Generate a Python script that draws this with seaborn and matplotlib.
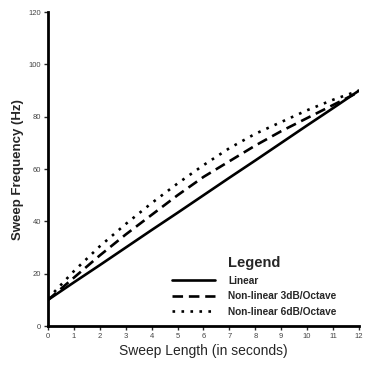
import pandas as pd
import matplotlib
matplotlib.use("Agg")
import matplotlib.pyplot as plt
import seaborn as sns

seconds = [0, 1, 2, 3, 4, 5, 6, 7, 8, 9, 10, 11, 12]
linear = [10, 16.7, 23.3, 30, 36.7, 43.3, 50, 56.7, 63.3, 70, 76.7, 83.3, 90]
nonlinear_3db = [10, 18.5, 27, 35, 42.5, 50, 57, 63, 69, 74.5, 79.5, 84.5, 89.5]
nonlinear_6db = [10.5, 21, 30.5, 39, 47, 54.5, 61.5, 68, 73.5, 78, 82.5, 86.5, 90]
names = ["Linear", "Non-linear 3dB/Octave", "Non-linear 6dB/Octave"]

sns.set_style("white")
plt.rcParams["font.family"] = ["Liberation Sans", "DejaVu Sans"]

fig = plt.figure(figsize=(3.68, 3.68), dpi=100)
ax = fig.add_axes([0.1304, 0.114, 0.845, 0.853])

styles = ["-", (0, (4, 2.2)), (0, (1, 2.4))]
for name, vals, ls in zip(names, [linear, nonlinear_3db, nonlinear_6db], styles):
    sns.lineplot(x=seconds, y=vals, ax=ax, color="black", lw=1.9, linestyle=ls,
                 label=name)

ax.set_xlim(0, 12)
ax.set_ylim(0, 120)
ax.set_xticks(range(0, 13))
ax.set_yticks(range(0, 121, 20))
ax.tick_params(axis="both", labelsize=5.5, labelcolor="#444444", length=3,
               width=1, direction="out", bottom=True, left=True, pad=2)
for s in ["top", "right"]:
    ax.spines[s].set_visible(False)
for s in ["left", "bottom"]:
    ax.spines[s].set_linewidth(2)
    ax.spines[s].set_color("black")

ax.set_xlabel("Sweep Length (in seconds)", fontsize=10, labelpad=3)
ax.set_ylabel("Sweep Frequency (Hz)", fontsize=9.5, fontweight="bold", labelpad=3)

leg = ax.legend(title="Legend", frameon=False, loc="lower left",
                bbox_to_anchor=(0.37, 0.0), handlelength=4.2,
                handletextpad=1.3, labelspacing=0.55,
                prop={"weight": "bold", "size": 7.3})
leg.get_title().set_fontweight("bold")
leg.get_title().set_fontsize(10.5)

fig.savefig("out.png", dpi=100)
